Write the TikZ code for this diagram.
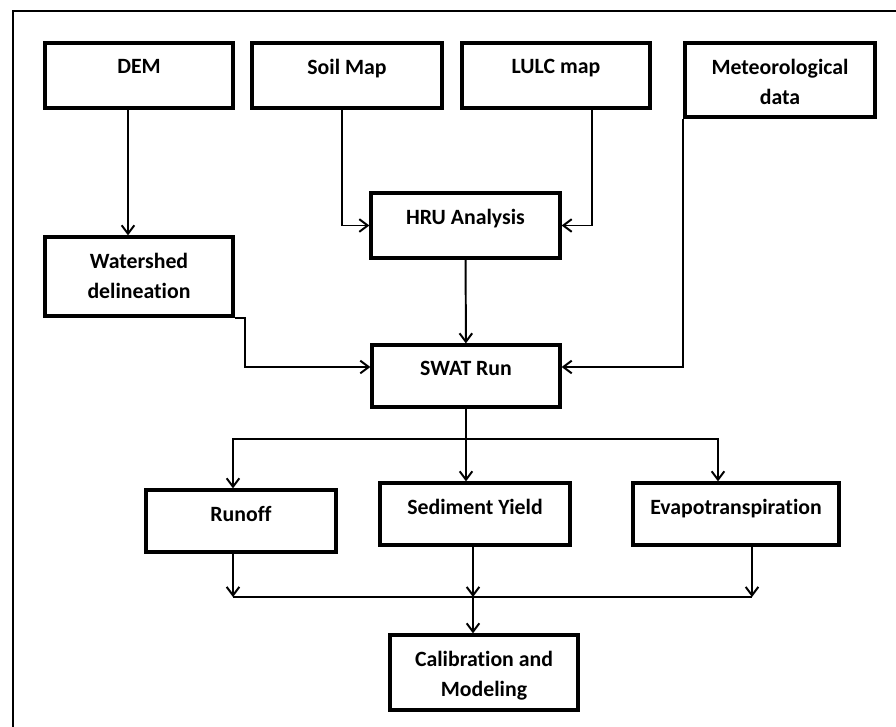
\documentclass[tikz,border=0pt]{standalone}
\usepackage{fontspec}
\setmainfont{Carlito}[Ligatures=NoCommon]
\usetikzlibrary{arrows.meta, positioning, calc}
\tikzset{
	block/.style   ={rectangle, draw=black, line width=2.3pt, minimum width=4.7cm, minimum height=1.625cm, inner sep=0pt},
	blocktxt/.style={anchor=north, inner sep=0pt, align=center, yshift=-0.44cm, font=\bfseries\fontsize{15.5pt}{21pt}\selectfont},
	flow/.style    ={-{Straight Barb[length=6pt, width=9pt]}, line width=1.4pt},
	wire/.style    ={line width=1.4pt},
	frame/.style   ={line width=2pt},
}
\begin{document}
\begin{tikzpicture}[x=0.025cm, y=-0.025cm]
	\useasboundingbox (0,0) rectangle (896,726);
	% outer frame
	\draw[frame] (13,740) -- (13,11) -- (910,11);
	% inputs
	\node[block] (dem) at (139,75.5) [label={[blocktxt]north:DEM}] {};
	\node[block, minimum width=4.75cm] (soil) at (347,75.5) [label={[blocktxt]north:Soil Map}] {};
	\node[block] (lulc) at (556,75.5) [label={[blocktxt]north:LULC map}] {};
	\node[block, minimum width=4.75cm, minimum height=1.85cm] (meteo) at (780,80) [label={[blocktxt]north:Meteorological\\data}] {};
	% processing
	\node[block, minimum width=4.725cm] (hru) at (465.5,225.5) [label={[blocktxt]north:HRU Analysis}] {};
	\node[block, minimum height=1.975cm] (watershed) at (139,276.5) [label={[blocktxt]north:Watershed\\delineation}] {};
	\node[block, minimum height=1.55cm] (swat) at (466,376) [label={[blocktxt]north:SWAT Run}] {};
	% outputs
	\node[block, minimum width=4.75cm, minimum height=1.55cm] (runoff) at (241,521) [label={[blocktxt]north:Runoff}] {};
	\node[block, minimum width=4.75cm, minimum height=1.55cm] (sediment) at (475,514) [label={[blocktxt]north:Sediment Yield}] {};
	\node[block, minimum width=5.15cm, minimum height=1.55cm] (evapo) at (736,514) [label={[blocktxt]north:Evapotranspiration}] {};
	\node[block, minimum height=1.875cm] (calib) at (484,672.5) [label={[blocktxt]north:Calibration and\\Modeling}] {};
	% connectors
	\draw[flow] ([xshift=-0.275cm]dem.south) -- ([xshift=-0.275cm]watershed.north);
	\draw[flow] ([xshift=-0.125cm]soil.south) |- (hru.west);
	\draw[flow] ([xshift=0.9cm]lulc.south) |- (hru.east);
	\draw[flow] (hru) -- (swat);
	\draw[flow] (watershed.south east) -- ++(10,0) |- ([yshift=0.225cm]swat.west);
	\draw[flow] (meteo.south west) |- ([yshift=0.225cm]swat.east);
	\coordinate (split) at (466,439);
	\draw[wire] (swat.south) -- (split);
	\draw[flow] (split) -- (split |- sediment.north);
	\draw[flow] (split) -| ([xshift=-0.2cm]runoff.north);
	\draw[flow] (split) -| ([xshift=-0.45cm]evapo.north);
	\coordinate (join) at (473,597);
	\draw[flow] ([xshift=-0.2cm]runoff.south) -- ([xshift=-0.2cm]runoff.south |- join);
	\draw[flow] (sediment.south -| join) -- (join);
	\draw[flow] ([xshift=0.4cm]evapo.south) -- ([xshift=0.4cm]evapo.south |- join);
	\draw[wire] ([xshift=-0.2cm]runoff.south |- join) -- ([xshift=0.4cm]evapo.south |- join);
	\draw[flow] (join) -- (join |- calib.north);
\end{tikzpicture}
\end{document}
